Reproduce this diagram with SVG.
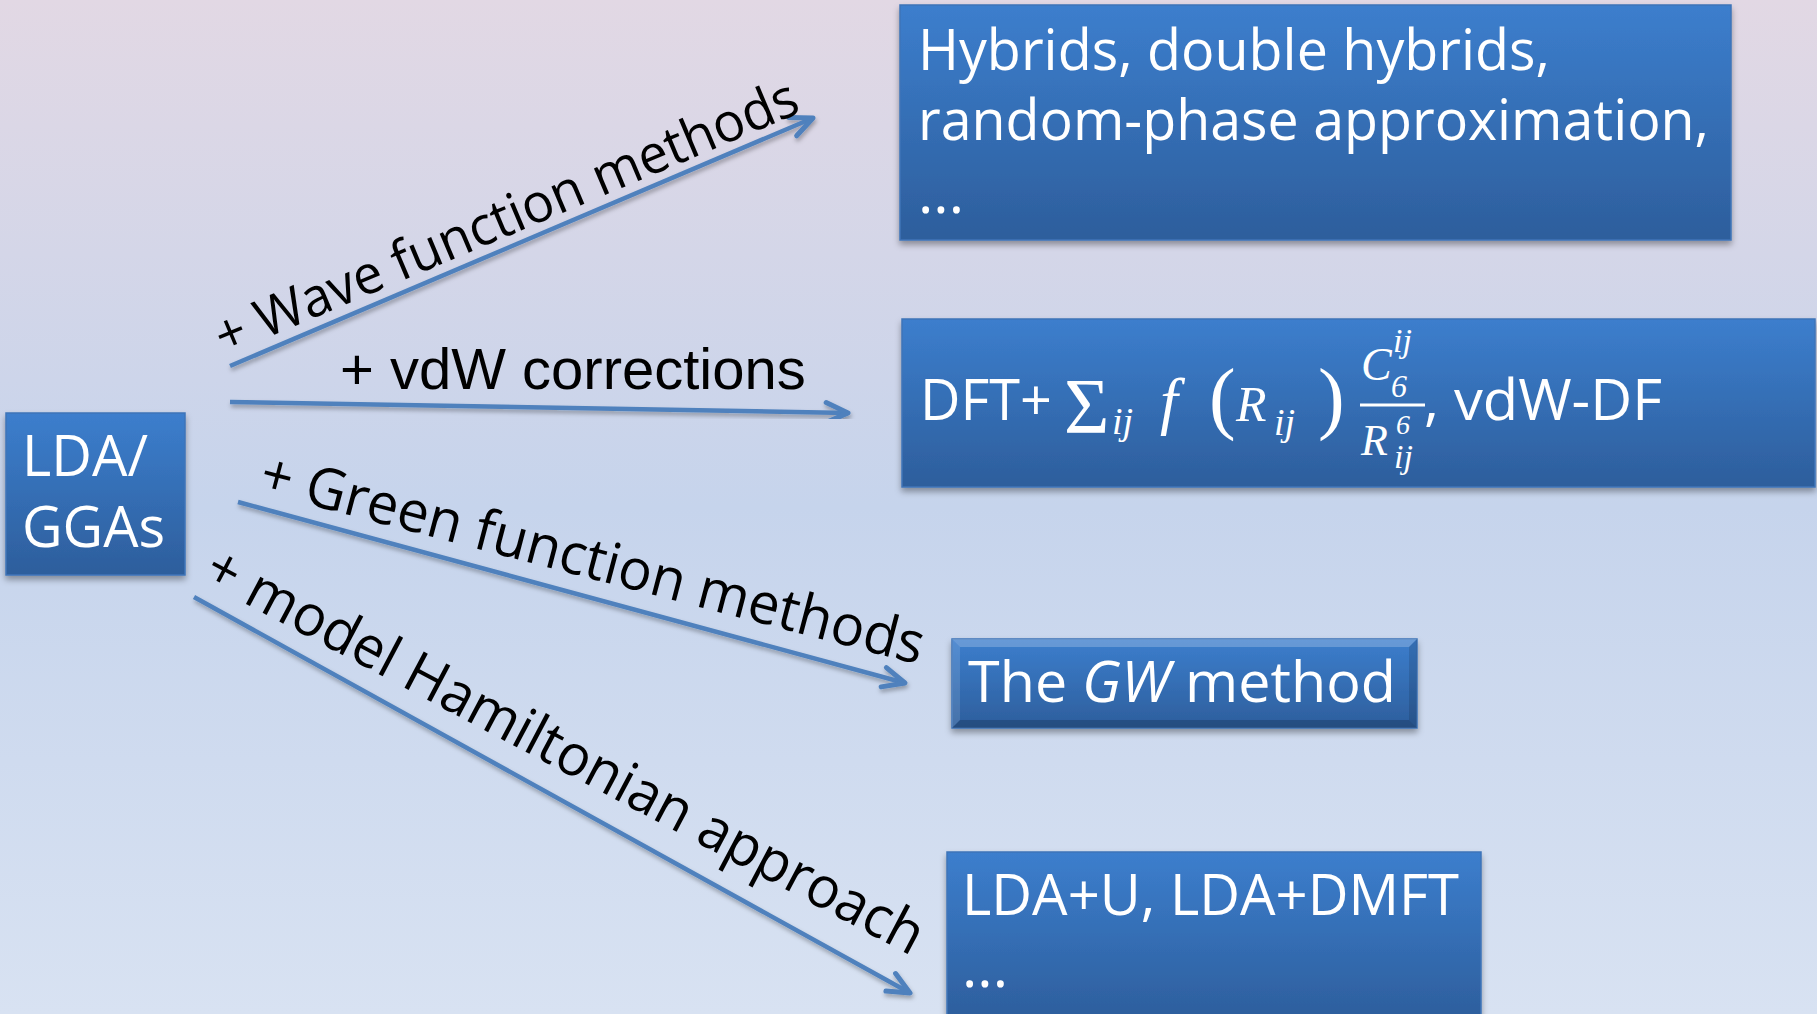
<svg xmlns="http://www.w3.org/2000/svg" width="1817" height="1014" viewBox="0 0 1817 1014">
<defs>
<linearGradient id="bg" x1="0" y1="0" x2="0" y2="1">
<stop offset="0" stop-color="#e2d8e4"/>
<stop offset="0.5" stop-color="#c6d4ec"/>
<stop offset="1" stop-color="#d8e2f2"/>
</linearGradient>
<linearGradient id="box" x1="0" y1="0" x2="0" y2="1">
<stop offset="0" stop-color="#3c7ecd"/>
<stop offset="1" stop-color="#2d5e9c"/>
</linearGradient>
<filter id="sh" x="-10%" y="-10%" width="120%" height="130%">
<feDropShadow dx="0" dy="4" stdDeviation="3" flood-color="#000" flood-opacity="0.35"/>
</filter>
<filter id="ash" x="-10%" y="-50%" width="120%" height="200%">
<feDropShadow dx="1" dy="3" stdDeviation="2" flood-color="#000" flood-opacity="0.3"/>
</filter>
<marker id="arr" markerUnits="userSpaceOnUse" markerWidth="40" markerHeight="40" viewBox="-30 -20 40 40" refX="0" refY="0" orient="auto">
<path d="M-22,-10 L0,0 L-22,10" fill="none" stroke="#4f81bd" stroke-width="5" stroke-linecap="round" stroke-linejoin="round"/>
</marker>
</defs>
<style>
.bx{fill:url(#box);stroke:#3f74b8;stroke-width:1.5;filter:url(#sh)}
.t{font-family:"Open Sans","Noto Sans",sans-serif;font-size:57.5px;fill:#fff}
.m{font-family:"Liberation Serif","DejaVu Serif",serif;font-style:italic;fill:#fff}
.lbl{font-family:"Open Sans","Noto Sans",sans-serif;fill:#000}
.c{fill:none;stroke:#4f81bd;stroke-width:4.5;marker-end:url(#arr);filter:url(#ash)}
</style>
<rect width="1817" height="1014" fill="url(#bg)"/>

<g id="connectors">
<line class="c" x1="230" y1="366" x2="813" y2="118"/>
<line class="c" x1="230" y1="402" x2="848" y2="413"/>
<line class="c" x1="238" y1="502" x2="905" y2="683"/>
<line class="c" x1="194" y1="597" x2="910" y2="993"/>
<text class="lbl" font-size="54" transform="translate(224,356) rotate(-22.9)" textLength="628" lengthAdjust="spacingAndGlyphs">+ Wave function methods</text>
<text style="font-family:'Liberation Sans',Arial,sans-serif;font-size:58px;fill:#000" x="340" y="389">+ vdW corrections</text>
<text class="lbl" font-size="57" transform="translate(257,491) rotate(14.7)" textLength="684" lengthAdjust="spacingAndGlyphs">+ Green function methods</text>
<text class="lbl" font-size="57.5" transform="translate(201,580) rotate(27.9)" textLength="804" lengthAdjust="spacingAndGlyphs">+ model Hamiltonian approach</text>
</g>

<g id="lda">
<rect class="bx" x="6" y="413" width="179" height="162"/>
<text class="t" x="22" y="476" textLength="126" lengthAdjust="spacingAndGlyphs">LDA/</text>
<text class="t" x="22" y="547" textLength="143" lengthAdjust="spacingAndGlyphs">GGAs</text>
</g>

<g id="hybrids">
<rect class="bx" x="900" y="5" width="831" height="235"/>
<text class="t" x="918" y="70" textLength="632" lengthAdjust="spacingAndGlyphs">Hybrids, double hybrids,</text>
<text class="t" x="918" y="140" textLength="791" lengthAdjust="spacingAndGlyphs">random-phase approximation,</text>
<text class="t" x="918" y="213" textLength="46" lengthAdjust="spacingAndGlyphs">...</text>
</g>

<g id="vdw">
<rect class="bx" x="902" y="319" width="913" height="168"/>
<text class="t" x="920" y="420" textLength="132" lengthAdjust="spacingAndGlyphs">DFT+</text>
<text style="font-family:'Liberation Serif','DejaVu Serif',serif;font-size:78px;fill:#fff" x="1064" y="432">Σ</text>
<text class="m" font-size="38" x="1112" y="434">ij</text>
<text class="m" font-size="64" x="1160" y="422">f</text>
<text style="font-family:'Liberation Serif','DejaVu Serif',serif;font-size:80px;fill:#fff" x="1209" y="424">(</text>
<text class="m" font-size="50" x="1236" y="421">R</text>
<text class="m" font-size="38" x="1274" y="435">ij</text>
<text style="font-family:'Liberation Serif','DejaVu Serif',serif;font-size:80px;fill:#fff" x="1318" y="424">)</text>
<text class="m" font-size="46" x="1361" y="380">C</text>
<text class="m" font-size="34" x="1393" y="352">ij</text>
<text class="m" font-size="32" x="1391" y="397" font-style="normal">6</text>
<line x1="1360" y1="405" x2="1425" y2="405" stroke="#fff" stroke-width="3"/>
<text class="m" font-size="44" x="1361" y="455">R</text>
<text class="m" font-size="28" x="1396" y="434" font-style="normal">6</text>
<text class="m" font-size="34" x="1394" y="468">ij</text>
<text class="t" x="1424" y="420" textLength="238" lengthAdjust="spacingAndGlyphs">, vdW-DF</text>
</g>

<g id="gw">
<rect class="bx" x="952" y="639" width="465" height="89"/>
<polygon points="952,639 1417,639 1409,647 960,647" fill="#fff" opacity="0.22"/>
<polygon points="952,728 1417,728 1409,720 960,720" fill="#000" opacity="0.18"/>
<polygon points="952,639 960,647 960,720 952,728" fill="#fff" opacity="0.12"/>
<polygon points="1417,639 1409,647 1409,720 1417,728" fill="#000" opacity="0.12"/>
<text class="t" x="968" y="702" textLength="428" lengthAdjust="spacingAndGlyphs">The <tspan font-style="italic">GW</tspan> method</text>
</g>

<g id="ldau">
<rect class="bx" x="947" y="852" width="534" height="170"/>
<text class="t" x="962" y="915" textLength="497" lengthAdjust="spacingAndGlyphs">LDA+U, LDA+DMFT</text>
<text class="t" x="962" y="987" textLength="46" lengthAdjust="spacingAndGlyphs">...</text>
</g>
</svg>
